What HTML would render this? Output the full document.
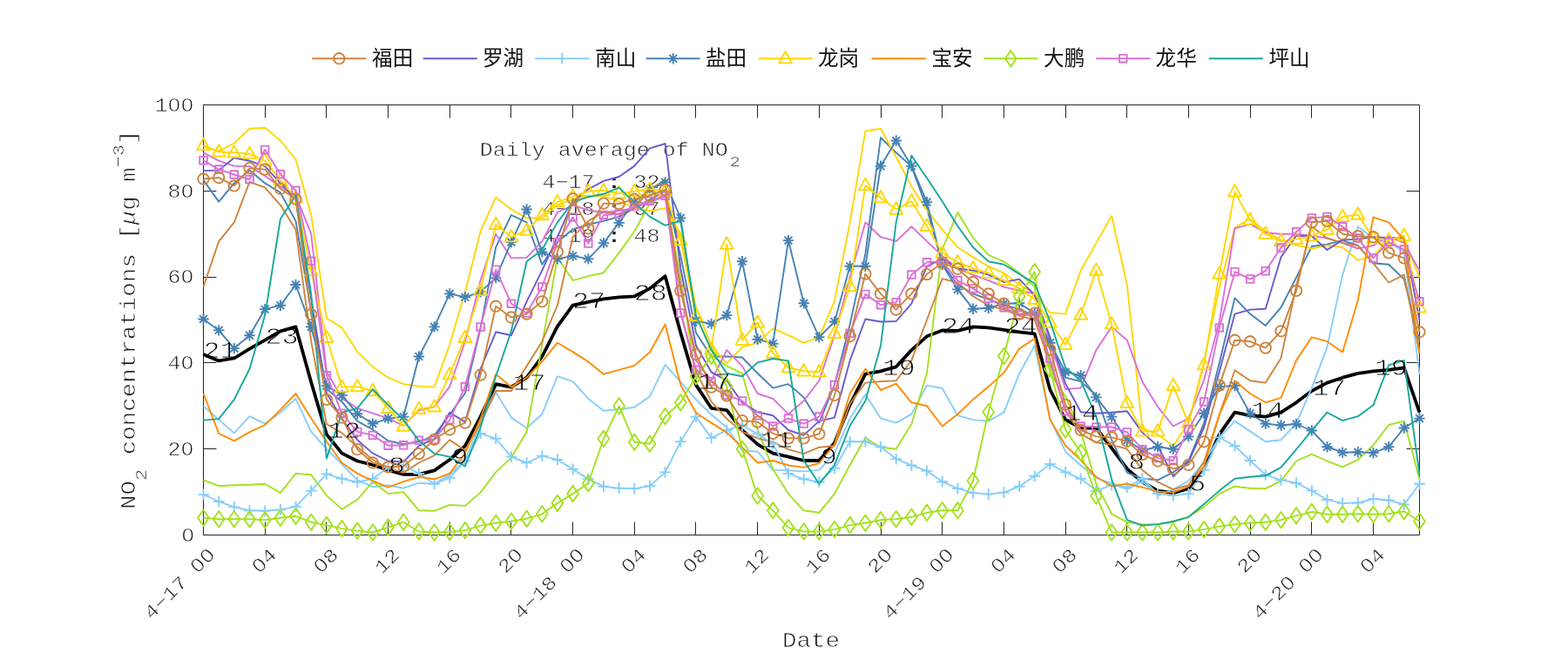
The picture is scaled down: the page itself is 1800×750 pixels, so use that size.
<!DOCTYPE html>
<html><head><meta charset="utf-8"><title>NO2</title>
<style>html,body{margin:0;padding:0;background:#fff}svg{display:block}text{mix-blend-mode:multiply;font-family:"Liberation Mono",monospace;font-size:25px;fill:#1c1c1c;stroke:#fff;stroke-width:0.65px}.b{fill:#000;stroke-width:1.0px;font-size:31.7px}.l{fill:none;stroke-linejoin:round;stroke-linecap:butt}.lg{mix-blend-mode:normal;font-family:"Liberation Sans","Noto Sans CJK SC",sans-serif;font-size:23.6px;fill:#111;stroke:none}</style></head><body>
<svg width="1800" height="750" viewBox="0 0 1800 750">
<rect width="1800" height="750" fill="#fff"/>
<path d="M233.5 120.5H1629.5V614.5H233.5ZM233.5 614.5v-15M233.5 120.5v15M304.5 614.5v-15M304.5 120.5v15M374.5 614.5v-15M374.5 120.5v15M445.5 614.5v-15M445.5 120.5v15M516.5 614.5v-15M516.5 120.5v15M586.5 614.5v-15M586.5 120.5v15M657.5 614.5v-15M657.5 120.5v15M728.5 614.5v-15M728.5 120.5v15M798.5 614.5v-15M798.5 120.5v15M869.5 614.5v-15M869.5 120.5v15M940.5 614.5v-15M940.5 120.5v15M1011.5 614.5v-15M1011.5 120.5v15M1081.5 614.5v-15M1081.5 120.5v15M1152.5 614.5v-15M1152.5 120.5v15M1223.5 614.5v-15M1223.5 120.5v15M1293.5 614.5v-15M1293.5 120.5v15M1364.5 614.5v-15M1364.5 120.5v15M1435.5 614.5v-15M1435.5 120.5v15M1505.5 614.5v-15M1505.5 120.5v15M1576.5 614.5v-15M1576.5 120.5v15M233.5 515.5h15M1629.5 515.5h-15M233.5 416.5h15M1629.5 416.5h-15M233.5 318.5h15M1629.5 318.5h-15M233.5 219.5h15M1629.5 219.5h-15" fill="none" stroke="#262626" stroke-width="1"/>
<text transform="translate(550.8,178.7) scale(1,0.87)">Daily average of NO<tspan font-size="20" dy="14.7" dx="2">2</tspan></text>
<text transform="translate(622.5,215.8) scale(1,0.87)">4−17 <tspan font-weight="bold" stroke="none">:</tspan> 32</text>
<text transform="translate(622.5,246.7) scale(1,0.87)">4−18 <tspan font-weight="bold" stroke="none">:</tspan> 37</text>
<text transform="translate(622.5,277.5) scale(1,0.87)">4−19 <tspan font-weight="bold" stroke="none">:</tspan> 48</text>
<polyline class="l" stroke="#000" stroke-width="3.8" stroke-linejoin="miter" points="233.5,407 251.2,414.4 268.8,411.5 286.5,400.6 304.2,390.7 321.9,380.3 339.5,375.4 357.2,439.1 374.9,498.9 392.5,520.6 410.2,529.5 427.9,534 445.6,539.9 463.2,544.8 480.9,544.8 498.6,540.4 516.2,528 533.9,512.2 551.6,478.6 569.2,441.1 586.9,444.6 604.6,433.7 622.3,409.5 639.9,374.9 657.6,350.7 675.3,346.8 692.9,343.3 710.6,341.3 728.3,340.3 746,331.4 763.6,317.1 781.3,382.3 799,442.1 816.6,468.8 834.3,471.2 852,494 869.7,510.3 887.3,520.6 905,524.6 922.7,529 940.3,529 958,508.8 975.7,464.8 993.4,429.7 1011,426.3 1028.7,421.3 1046.4,402.1 1064,386.3 1081.7,379.4 1099.4,379.9 1117,375.4 1134.7,376.4 1152.4,378.9 1170.1,381.3 1187.7,383.3 1205.4,447.5 1223.1,482.1 1240.7,491.5 1258.4,491.5 1276.1,514.7 1293.8,538.4 1311.4,553.7 1329.1,563.6 1346.8,566.1 1364.4,561.1 1382.1,537.9 1399.8,498.9 1417.5,473.7 1435.1,477.2 1452.8,478.6 1470.5,473.7 1488.1,462.3 1505.8,449 1523.5,439.6 1541.2,433.7 1558.8,428.8 1576.5,426.3 1594.2,424.8 1611.8,422.3 1629.5,473.7"/>
<g class="l" stroke-width="1.9">
<polyline stroke="#87CEFA" points="233.5,466.3 251.2,482.1 268.8,497.4 286.5,478.2 304.2,486.6 321.9,473.7 339.5,457.9 357.2,495.9 374.9,515.7 392.5,533 410.2,551.3 427.9,559.2 445.6,557.2 463.2,560.7 480.9,554.7 498.6,555.7 516.2,545.3 533.9,529 551.6,486.1 569.2,450.5 586.9,479.6 604.6,491.5 622.3,475.7 639.9,432.2 657.6,438.1 675.3,457.9 692.9,471.7 710.6,470.3 728.3,467.8 746,455.4 763.6,418.9 781.3,438.6 799,458.9 816.6,476.2 834.3,491 852,517.2 869.7,518.7 887.3,539.9 905,540.4 922.7,541.4 940.3,539.9 958,520.6 975.7,480.6 993.4,453 1011,480.6 1028.7,485.6 1046.4,475.7 1064,442.6 1081.7,446 1099.4,477.2 1117,482.1 1134.7,483.6 1152.4,473.7 1170.1,429.2 1187.7,397.1 1205.4,480.6 1223.1,518.7 1240.7,534.5 1258.4,548.8 1276.1,555.2 1293.8,562.1 1311.4,552.8 1329.1,569.1 1346.8,562.1 1364.4,552.3 1382.1,530.5 1399.8,502.4 1417.5,483.6 1435.1,495.4 1452.8,507.3 1470.5,505.3 1488.1,486.6 1505.8,445.6 1523.5,398.6 1541.2,315.6 1558.8,260.3 1576.5,273.6 1594.2,278.6 1611.8,289 1629.5,430.2"/>
<polyline stroke="#4682B4" points="233.5,206.9 251.2,231.6 268.8,210.4 286.5,195.6 304.2,210.4 321.9,221.3 339.5,253.9 357.2,357.6 374.9,446.5 392.5,461.4 410.2,483.6 427.9,493.5 445.6,506.3 463.2,510.3 480.9,507.3 498.6,500.4 516.2,476.2 533.9,451.5 551.6,377.4 569.2,284 586.9,247 604.6,255.4 622.3,303.8 639.9,278.1 657.6,263.3 675.3,257.8 692.9,253.9 710.6,248.9 728.3,239.1 746,229.2 763.6,219.3 781.3,293.4 799,382.3 816.6,409.5 834.3,409.5 852,410.5 869.7,428.8 887.3,445.6 905,441.1 922.7,456.4 940.3,485.6 958,442.1 975.7,372.4 993.4,291.4 1011,158 1028.7,175.3 1046.4,191.1 1064,239.1 1081.7,303.3 1099.4,327 1117,337.4 1134.7,343.8 1152.4,350.2 1170.1,355.1 1187.7,362.6 1205.4,397.1 1223.1,433.7 1240.7,438.1 1258.4,453.9 1276.1,505.3 1293.8,542.9 1311.4,549.8 1329.1,551.3 1346.8,542.4 1364.4,529 1382.1,486.1 1399.8,416.9 1417.5,342.3 1435.1,360.6 1452.8,373.9 1470.5,353.2 1488.1,318.6 1505.8,283 1523.5,280.6 1541.2,276.1 1558.8,282 1576.5,302.3 1594.2,303.8 1611.8,320.6 1629.5,392.2"/>
<polyline stroke="#FFD700" points="233.5,168.9 251.2,173.4 268.8,164.5 286.5,147.7 304.2,146.7 321.9,161.5 339.5,183.2 357.2,247 374.9,365.5 392.5,376.4 410.2,404.1 427.9,421.3 445.6,433.7 463.2,441.1 480.9,443.6 498.6,444.6 516.2,395.7 533.9,335.4 551.6,265.7 569.2,226.7 586.9,240.5 604.6,250.4 622.3,250.4 639.9,235.6 657.6,228.7 675.3,224.7 692.9,225.2 710.6,231.6 728.3,238.6 746,242.5 763.6,239.1 781.3,268.7 799,352.7 816.6,397.1 834.3,417.4 852,398.6 869.7,393.7 887.3,377.4 905,384.8 922.7,393.7 940.3,387.3 958,345.8 975.7,255.4 993.4,150.6 1011,147.7 1028.7,180.3 1046.4,213.9 1064,241.5 1081.7,263.8 1099.4,284 1117,295.4 1134.7,305.8 1152.4,313.7 1170.1,327 1187.7,337.4 1205.4,359.1 1223.1,360.6 1240.7,310.7 1258.4,279.1 1276.1,248 1293.8,327 1311.4,492 1329.1,498.9 1346.8,512.2 1364.4,485.6 1382.1,415.4 1399.8,330.4 1417.5,261.3 1435.1,251.4 1452.8,265.7 1470.5,275.6 1488.1,281.5 1505.8,285.5 1523.5,282 1541.2,284 1558.8,298.8 1576.5,293.9 1594.2,275.6 1611.8,273.6 1629.5,318.6"/>
<polyline stroke="#A4E21F" points="233.5,551.3 251.2,558.2 268.8,557.2 286.5,556.7 304.2,555.7 321.9,566.1 339.5,543.9 357.2,545.3 374.9,569.1 392.5,584.9 410.2,574 427.9,553.2 445.6,567.1 463.2,565.1 480.9,586.3 498.6,586.8 516.2,579.9 533.9,580.9 551.6,565.6 569.2,542.4 586.9,525.6 604.6,495.9 622.3,395.7 639.9,295.4 657.6,322.1 675.3,317.1 692.9,313.2 710.6,290.4 728.3,265.7 746,233.6 763.6,223.7 781.3,318.1 799,435.7 816.6,408 834.3,420.4 852,428.8 869.7,493.5 887.3,538.9 905,567.1 922.7,586.3 940.3,588.8 958,567.1 975.7,534 993.4,502.9 1011,513.7 1028.7,515.7 1046.4,487 1064,428.8 1081.7,286 1099.4,244 1117,273.1 1134.7,292.9 1152.4,300.3 1170.1,313.7 1187.7,329 1205.4,428.8 1223.1,455.4 1240.7,495.4 1258.4,555.7 1276.1,590.3 1293.8,599.7 1311.4,602.1 1329.1,602.1 1346.8,599.7 1364.4,593.8 1382.1,582.4 1399.8,567.1 1417.5,558.7 1435.1,560.7 1452.8,561.1 1470.5,552.3 1488.1,529.5 1505.8,521.6 1523.5,529.5 1541.2,536.4 1558.8,528 1576.5,511.3 1594.2,488 1611.8,483.6 1629.5,550.3"/>
<polyline stroke="#DA70D6" points="233.5,175.3 251.2,184.7 268.8,190.6 286.5,191.1 304.2,202 321.9,214.4 339.5,224.2 357.2,268.7 374.9,426.8 392.5,457.4 410.2,468.8 427.9,474.7 445.6,480.6 463.2,489 480.9,471.2 498.6,467.3 516.2,444.1 533.9,392.2 551.6,322.1 569.2,268.7 586.9,296.4 604.6,295.9 622.3,277.1 639.9,244 657.6,235.6 675.3,241.5 692.9,244 710.6,242 728.3,239.1 746,232.1 763.6,225.7 781.3,328 799,413.9 816.6,437.2 834.3,402.1 852,420.4 869.7,452 887.3,457.9 905,475.7 922.7,460.4 940.3,437.2 958,385.3 975.7,318.1 993.4,255.4 1011,272.2 1028.7,277.1 1046.4,260.3 1064,277.1 1081.7,293.9 1099.4,308.7 1117,315.6 1134.7,322.1 1152.4,329.5 1170.1,333.9 1187.7,337.4 1205.4,392.2 1223.1,447 1240.7,445.6 1258.4,402.1 1276.1,375.4 1293.8,390.7 1311.4,438.6 1329.1,467.3 1346.8,489.5 1364.4,480.6 1382.1,436.7 1399.8,369 1417.5,262.3 1435.1,257.3 1452.8,267.2 1470.5,268.7 1488.1,268.7 1505.8,270.7 1523.5,273.6 1541.2,279.1 1558.8,285.5 1576.5,282 1594.2,271.2 1611.8,279.1 1629.5,310.7"/>
<polyline stroke="#CD853F" points="233.5,329.5 251.2,277.1 268.8,255.4 286.5,208.9 304.2,215.3 321.9,235.6 339.5,263.8 357.2,392.2 374.9,487 392.5,497.4 410.2,513.2 427.9,528 445.6,537.9 463.2,542.9 480.9,531.5 498.6,523.1 516.2,505.3 533.9,517.2 551.6,486.1 569.2,449 586.9,449 604.6,420.4 622.3,392.2 639.9,350.7 657.6,272.2 675.3,253.9 692.9,243.5 710.6,246.5 728.3,238.6 746,218.3 763.6,206 781.3,357.6 799,426.8 816.6,461.4 834.3,481.1 852,495.9 869.7,503.4 887.3,507.8 905,516.2 922.7,521.1 940.3,513.7 958,512.2 975.7,463.8 993.4,439.6 1011,438.1 1028.7,437.2 1046.4,413.9 1064,367.5 1081.7,320.1 1099.4,324.5 1117,340.3 1134.7,350.7 1152.4,355.6 1170.1,362.6 1187.7,367.5 1205.4,416.9 1223.1,471.2 1240.7,498.4 1258.4,508.3 1276.1,510.8 1293.8,515.7 1311.4,539.9 1329.1,553.7 1346.8,562.1 1364.4,557.2 1382.1,530.5 1399.8,476.2 1417.5,425.3 1435.1,437.2 1452.8,439.6 1470.5,411.5 1488.1,328 1505.8,260.3 1523.5,273.6 1541.2,279.1 1558.8,282 1576.5,302.3 1594.2,324.5 1611.8,315.6 1629.5,405.5"/>
<polyline stroke="#6A5ACD" points="233.5,196.1 251.2,195.6 268.8,181.3 286.5,184.7 304.2,191.1 321.9,210.4 339.5,229.2 357.2,342.8 374.9,451.5 392.5,481.1 410.2,505.3 427.9,520.6 445.6,529.5 463.2,530.5 480.9,512.2 498.6,503.8 516.2,473.7 533.9,484.6 551.6,423.8 569.2,381.3 586.9,385.3 604.6,346.3 622.3,310.7 639.9,272.2 657.6,232.1 675.3,217.3 692.9,207.9 710.6,203 728.3,190.6 746,170.4 763.6,165 781.3,308.2 799,397.1 816.6,427.3 834.3,437.2 852,462.3 869.7,473.2 887.3,477.2 905,494 922.7,499.9 940.3,483.6 958,479.6 975.7,413.9 993.4,366.5 1011,369.5 1028.7,369 1046.4,348.7 1064,305.8 1081.7,297.4 1099.4,308.2 1117,310.7 1134.7,315.6 1152.4,324 1170.1,320.6 1187.7,338.8 1205.4,387.3 1223.1,440.6 1240.7,473.2 1258.4,474.7 1276.1,473.7 1293.8,472.2 1311.4,496.9 1329.1,512.2 1346.8,547.3 1364.4,530.5 1382.1,491 1399.8,426.8 1417.5,360.6 1435.1,355.6 1452.8,354.7 1470.5,295.4 1488.1,270.7 1505.8,271.2 1523.5,287 1541.2,275.6 1558.8,274.6 1576.5,272.2 1594.2,273.1 1611.8,273.1 1629.5,367.5"/>
<polyline stroke="#87CEFA" points="233.5,568.1 251.2,576 268.8,582.4 286.5,586.3 304.2,586.8 321.9,585.4 339.5,581.9 357.2,563.6 374.9,544.4 392.5,549.8 410.2,553.7 427.9,549.8 445.6,536.9 463.2,534.5 480.9,543.9 498.6,555.7 516.2,548.8 533.9,529.5 551.6,497.9 569.2,503.8 586.9,524.6 604.6,531.5 622.3,523.6 639.9,528 657.6,538.9 675.3,550.3 692.9,558.7 710.6,560.7 728.3,561.1 746,558.2 763.6,542.4 781.3,507.3 799,478.6 816.6,502.9 834.3,494 852,488.5 869.7,498.4 887.3,509.8 905,543.9 922.7,550.3 940.3,553.7 958,537.9 975.7,507.3 993.4,507.3 1011,513.2 1028.7,527.1 1046.4,534.5 1064,540.9 1081.7,553.2 1099.4,561.1 1117,566.1 1134.7,567.6 1152.4,565.6 1170.1,558.7 1187.7,546.8 1205.4,533 1223.1,542.4 1240.7,549.8 1258.4,563.6 1276.1,557.2 1293.8,559.7 1311.4,549.8 1329.1,567.1 1346.8,569.1 1364.4,567.1 1382.1,539.9 1399.8,502.4 1417.5,512.2 1435.1,529 1452.8,545.3 1470.5,551.3 1488.1,554.7 1505.8,563.6 1523.5,574 1541.2,577.9 1558.8,577.5 1576.5,573 1594.2,574.5 1611.8,579.4 1629.5,555.7"/>
<path stroke="#87CEFA" d="M227.1 568.1h12.8M233.5 561.7v12.8M244.8 576h12.8M251.2 569.6v12.8M262.4 582.4h12.8M268.8 576v12.8M280.1 586.3h12.8M286.5 579.9v12.8M297.8 586.8h12.8M304.2 580.4v12.8M315.5 585.4h12.8M321.9 579v12.8M333.1 581.9h12.8M339.5 575.5v12.8M350.8 563.6h12.8M357.2 557.2v12.8M368.5 544.4h12.8M374.9 538v12.8M386.1 549.8h12.8M392.5 543.4v12.8M403.8 553.7h12.8M410.2 547.3v12.8M421.5 549.8h12.8M427.9 543.4v12.8M439.2 536.9h12.8M445.6 530.5v12.8M456.8 534.5h12.8M463.2 528.1v12.8M474.5 543.9h12.8M480.9 537.5v12.8M492.2 555.7h12.8M498.6 549.3v12.8M509.8 548.8h12.8M516.2 542.4v12.8M527.5 529.5h12.8M533.9 523.1v12.8M545.2 497.9h12.8M551.6 491.5v12.8M562.8 503.8h12.8M569.2 497.4v12.8M580.5 524.6h12.8M586.9 518.2v12.8M598.2 531.5h12.8M604.6 525.1v12.8M615.9 523.6h12.8M622.3 517.2v12.8M633.5 528h12.8M639.9 521.6v12.8M651.2 538.9h12.8M657.6 532.5v12.8M668.9 550.3h12.8M675.3 543.9v12.8M686.5 558.7h12.8M692.9 552.3v12.8M704.2 560.7h12.8M710.6 554.3v12.8M721.9 561.1h12.8M728.3 554.7v12.8M739.6 558.2h12.8M746 551.8v12.8M757.2 542.4h12.8M763.6 536v12.8M774.9 507.3h12.8M781.3 500.9v12.8M792.6 478.6h12.8M799 472.2v12.8M810.2 502.9h12.8M816.6 496.5v12.8M827.9 494h12.8M834.3 487.6v12.8M845.6 488.5h12.8M852 482.1v12.8M863.3 498.4h12.8M869.7 492v12.8M880.9 509.8h12.8M887.3 503.4v12.8M898.6 543.9h12.8M905 537.5v12.8M916.3 550.3h12.8M922.7 543.9v12.8M933.9 553.7h12.8M940.3 547.3v12.8M951.6 537.9h12.8M958 531.5v12.8M969.3 507.3h12.8M975.7 500.9v12.8M987 507.3h12.8M993.4 500.9v12.8M1004.6 513.2h12.8M1011 506.8v12.8M1022.3 527.1h12.8M1028.7 520.7v12.8M1040 534.5h12.8M1046.4 528.1v12.8M1057.6 540.9h12.8M1064 534.5v12.8M1075.3 553.2h12.8M1081.7 546.8v12.8M1093 561.1h12.8M1099.4 554.7v12.8M1110.6 566.1h12.8M1117 559.7v12.8M1128.3 567.6h12.8M1134.7 561.2v12.8M1146 565.6h12.8M1152.4 559.2v12.8M1163.7 558.7h12.8M1170.1 552.3v12.8M1181.3 546.8h12.8M1187.7 540.4v12.8M1199 533h12.8M1205.4 526.6v12.8M1216.7 542.4h12.8M1223.1 536v12.8M1234.3 549.8h12.8M1240.7 543.4v12.8M1252 563.6h12.8M1258.4 557.2v12.8M1269.7 557.2h12.8M1276.1 550.8v12.8M1287.4 559.7h12.8M1293.8 553.3v12.8M1305 549.8h12.8M1311.4 543.4v12.8M1322.7 567.1h12.8M1329.1 560.7v12.8M1340.4 569.1h12.8M1346.8 562.7v12.8M1358 567.1h12.8M1364.4 560.7v12.8M1375.7 539.9h12.8M1382.1 533.5v12.8M1393.4 502.4h12.8M1399.8 496v12.8M1411.1 512.2h12.8M1417.5 505.8v12.8M1428.7 529h12.8M1435.1 522.6v12.8M1446.4 545.3h12.8M1452.8 538.9v12.8M1464.1 551.3h12.8M1470.5 544.9v12.8M1481.7 554.7h12.8M1488.1 548.3v12.8M1499.4 563.6h12.8M1505.8 557.2v12.8M1517.1 574h12.8M1523.5 567.6v12.8M1534.8 577.9h12.8M1541.2 571.5v12.8M1552.4 577.5h12.8M1558.8 571.1v12.8M1570.1 573h12.8M1576.5 566.6v12.8M1587.8 574.5h12.8M1594.2 568.1v12.8M1605.4 579.4h12.8M1611.8 573v12.8M1623.1 555.7h12.8M1629.5 549.3v12.8"/>
<polyline stroke="#4682B4" points="233.5,366.5 251.2,379.4 268.8,400.1 286.5,385.3 304.2,355.1 321.9,350.7 339.5,327 357.2,375.4 374.9,443.1 392.5,453.9 410.2,475.2 427.9,486.6 445.6,480.6 463.2,478.6 480.9,409.5 498.6,375.4 516.2,337.4 533.9,341.3 551.6,335.4 569.2,319.1 586.9,278.1 604.6,240.5 622.3,289.4 639.9,297.4 657.6,293.9 675.3,297.4 692.9,279.1 710.6,255.9 728.3,231.6 746,217.8 763.6,209.4 781.3,250.4 799,368.5 816.6,371.9 834.3,362.1 852,300.3 869.7,389.7 887.3,394.7 905,276.1 922.7,348.2 940.3,387.3 958,369.5 975.7,305.8 993.4,305.8 1011,190.6 1028.7,161.5 1046.4,190.6 1064,232.1 1081.7,303.8 1099.4,332.4 1117,354.7 1134.7,353.7 1152.4,348.7 1170.1,348.2 1187.7,359.6 1205.4,393.7 1223.1,427.3 1240.7,431.2 1258.4,456.4 1276.1,478.6 1293.8,505.8 1311.4,517.2 1329.1,513.2 1346.8,515.7 1364.4,501.4 1382.1,474.7 1399.8,444.1 1417.5,443.1 1435.1,474.7 1452.8,486.6 1470.5,488.5 1488.1,487 1505.8,494.5 1523.5,513.2 1541.2,519.7 1558.8,519.2 1576.5,520.1 1594.2,513.2 1611.8,491.5 1629.5,480.6"/>
<path stroke="#4682B4" d="M227.3 366.5h12.4M233.5 360.3v12.4M229.1 362.1l8.8 8.8M229.1 370.9l8.8 -8.8M245 379.4h12.4M251.2 373.2v12.4M246.8 375l8.8 8.8M246.8 383.7l8.8 -8.8M262.6 400.1h12.4M268.8 393.9v12.4M264.5 395.7l8.8 8.8M264.5 404.5l8.8 -8.8M280.3 385.3h12.4M286.5 379.1v12.4M282.1 380.9l8.8 8.8M282.1 389.7l8.8 -8.8M298 355.1h12.4M304.2 348.9v12.4M299.8 350.8l8.8 8.8M299.8 359.5l8.8 -8.8M315.7 350.7h12.4M321.9 344.5v12.4M317.5 346.3l8.8 8.8M317.5 355.1l8.8 -8.8M333.3 327h12.4M339.5 320.8v12.4M335.1 322.6l8.8 8.8M335.1 331.4l8.8 -8.8M351 375.4h12.4M357.2 369.2v12.4M352.8 371l8.8 8.8M352.8 379.8l8.8 -8.8M368.7 443.1h12.4M374.9 436.9v12.4M370.5 438.7l8.8 8.8M370.5 447.5l8.8 -8.8M386.3 453.9h12.4M392.5 447.8v12.4M388.2 449.6l8.8 8.8M388.2 458.3l8.8 -8.8M404 475.2h12.4M410.2 469v12.4M405.8 470.8l8.8 8.8M405.8 479.6l8.8 -8.8M421.7 486.6h12.4M427.9 480.4v12.4M423.5 482.2l8.8 8.8M423.5 490.9l8.8 -8.8M439.4 480.6h12.4M445.6 474.4v12.4M441.2 476.2l8.8 8.8M441.2 485l8.8 -8.8M457 478.6h12.4M463.2 472.4v12.4M458.8 474.3l8.8 8.8M458.8 483l8.8 -8.8M474.7 409.5h12.4M480.9 403.3v12.4M476.5 405.1l8.8 8.8M476.5 413.9l8.8 -8.8M492.4 375.4h12.4M498.6 369.2v12.4M494.2 371l8.8 8.8M494.2 379.8l8.8 -8.8M510 337.4h12.4M516.2 331.2v12.4M511.9 333l8.8 8.8M511.9 341.8l8.8 -8.8M527.7 341.3h12.4M533.9 335.1v12.4M529.5 336.9l8.8 8.8M529.5 345.7l8.8 -8.8M545.4 335.4h12.4M551.6 329.2v12.4M547.2 331l8.8 8.8M547.2 339.8l8.8 -8.8M563 319.1h12.4M569.2 312.9v12.4M564.9 314.7l8.8 8.8M564.9 323.5l8.8 -8.8M580.7 278.1h12.4M586.9 271.9v12.4M582.5 273.7l8.8 8.8M582.5 282.5l8.8 -8.8M598.4 240.5h12.4M604.6 234.3v12.4M600.2 236.2l8.8 8.8M600.2 244.9l8.8 -8.8M616.1 289.4h12.4M622.3 283.2v12.4M617.9 285.1l8.8 8.8M617.9 293.8l8.8 -8.8M633.7 297.4h12.4M639.9 291.2v12.4M635.5 293l8.8 8.8M635.5 301.7l8.8 -8.8M651.4 293.9h12.4M657.6 287.7v12.4M653.2 289.5l8.8 8.8M653.2 298.3l8.8 -8.8M669.1 297.4h12.4M675.3 291.2v12.4M670.9 293l8.8 8.8M670.9 301.7l8.8 -8.8M686.7 279.1h12.4M692.9 272.9v12.4M688.6 274.7l8.8 8.8M688.6 283.5l8.8 -8.8M704.4 255.9h12.4M710.6 249.7v12.4M706.2 251.5l8.8 8.8M706.2 260.2l8.8 -8.8M722.1 231.6h12.4M728.3 225.4v12.4M723.9 227.3l8.8 8.8M723.9 236l8.8 -8.8M739.8 217.8h12.4M746 211.6v12.4M741.6 213.4l8.8 8.8M741.6 222.2l8.8 -8.8M757.4 209.4h12.4M763.6 203.2v12.4M759.2 205l8.8 8.8M759.2 213.8l8.8 -8.8M775.1 250.4h12.4M781.3 244.2v12.4M776.9 246l8.8 8.8M776.9 254.8l8.8 -8.8M792.8 368.5h12.4M799 362.3v12.4M794.6 364.1l8.8 8.8M794.6 372.9l8.8 -8.8M810.4 371.9h12.4M816.6 365.7v12.4M812.3 367.6l8.8 8.8M812.3 376.3l8.8 -8.8M828.1 362.1h12.4M834.3 355.9v12.4M829.9 357.7l8.8 8.8M829.9 366.5l8.8 -8.8M845.8 300.3h12.4M852 294.1v12.4M847.6 295.9l8.8 8.8M847.6 304.7l8.8 -8.8M863.5 389.7h12.4M869.7 383.5v12.4M865.3 385.3l8.8 8.8M865.3 394.1l8.8 -8.8M881.1 394.7h12.4M887.3 388.5v12.4M882.9 390.3l8.8 8.8M882.9 399.1l8.8 -8.8M898.8 276.1h12.4M905 269.9v12.4M900.6 271.7l8.8 8.8M900.6 280.5l8.8 -8.8M916.5 348.2h12.4M922.7 342v12.4M918.3 343.8l8.8 8.8M918.3 352.6l8.8 -8.8M934.1 387.3h12.4M940.3 381.1v12.4M936 382.9l8.8 8.8M936 391.6l8.8 -8.8M951.8 369.5h12.4M958 363.3v12.4M953.6 365.1l8.8 8.8M953.6 373.9l8.8 -8.8M969.5 305.8h12.4M975.7 299.6v12.4M971.3 301.4l8.8 8.8M971.3 310.1l8.8 -8.8M987.2 305.8h12.4M993.4 299.6v12.4M989 301.4l8.8 8.8M989 310.1l8.8 -8.8M1004.8 190.6h12.4M1011 184.4v12.4M1006.6 186.3l8.8 8.8M1006.6 195l8.8 -8.8M1022.5 161.5h12.4M1028.7 155.3v12.4M1024.3 157.1l8.8 8.8M1024.3 165.9l8.8 -8.8M1040.2 190.6h12.4M1046.4 184.4v12.4M1042 186.3l8.8 8.8M1042 195l8.8 -8.8M1057.8 232.1h12.4M1064 225.9v12.4M1059.7 227.8l8.8 8.8M1059.7 236.5l8.8 -8.8M1075.5 303.8h12.4M1081.7 297.6v12.4M1077.3 299.4l8.8 8.8M1077.3 308.2l8.8 -8.8M1093.2 332.4h12.4M1099.4 326.2v12.4M1095 328l8.8 8.8M1095 336.8l8.8 -8.8M1110.8 354.7h12.4M1117 348.5v12.4M1112.7 350.3l8.8 8.8M1112.7 359l8.8 -8.8M1128.5 353.7h12.4M1134.7 347.5v12.4M1130.3 349.3l8.8 8.8M1130.3 358.1l8.8 -8.8M1146.2 348.7h12.4M1152.4 342.5v12.4M1148 344.3l8.8 8.8M1148 353.1l8.8 -8.8M1163.9 348.2h12.4M1170.1 342v12.4M1165.7 343.8l8.8 8.8M1165.7 352.6l8.8 -8.8M1181.5 359.6h12.4M1187.7 353.4v12.4M1183.3 355.2l8.8 8.8M1183.3 364l8.8 -8.8M1199.2 393.7h12.4M1205.4 387.5v12.4M1201 389.3l8.8 8.8M1201 398.1l8.8 -8.8M1216.9 427.3h12.4M1223.1 421.1v12.4M1218.7 422.9l8.8 8.8M1218.7 431.7l8.8 -8.8M1234.5 431.2h12.4M1240.7 425v12.4M1236.4 426.8l8.8 8.8M1236.4 435.6l8.8 -8.8M1252.2 456.4h12.4M1258.4 450.2v12.4M1254 452l8.8 8.8M1254 460.8l8.8 -8.8M1269.9 478.6h12.4M1276.1 472.4v12.4M1271.7 474.3l8.8 8.8M1271.7 483l8.8 -8.8M1287.6 505.8h12.4M1293.8 499.6v12.4M1289.4 501.4l8.8 8.8M1289.4 510.2l8.8 -8.8M1305.2 517.2h12.4M1311.4 511v12.4M1307 512.8l8.8 8.8M1307 521.6l8.8 -8.8M1322.9 513.2h12.4M1329.1 507v12.4M1324.7 508.8l8.8 8.8M1324.7 517.6l8.8 -8.8M1340.6 515.7h12.4M1346.8 509.5v12.4M1342.4 511.3l8.8 8.8M1342.4 520.1l8.8 -8.8M1358.2 501.4h12.4M1364.4 495.2v12.4M1360.1 497l8.8 8.8M1360.1 505.8l8.8 -8.8M1375.9 474.7h12.4M1382.1 468.5v12.4M1377.7 470.3l8.8 8.8M1377.7 479.1l8.8 -8.8M1393.6 444.1h12.4M1399.8 437.9v12.4M1395.4 439.7l8.8 8.8M1395.4 448.5l8.8 -8.8M1411.3 443.1h12.4M1417.5 436.9v12.4M1413.1 438.7l8.8 8.8M1413.1 447.5l8.8 -8.8M1428.9 474.7h12.4M1435.1 468.5v12.4M1430.7 470.3l8.8 8.8M1430.7 479.1l8.8 -8.8M1446.6 486.6h12.4M1452.8 480.4v12.4M1448.4 482.2l8.8 8.8M1448.4 490.9l8.8 -8.8M1464.3 488.5h12.4M1470.5 482.3v12.4M1466.1 484.1l8.8 8.8M1466.1 492.9l8.8 -8.8M1481.9 487h12.4M1488.1 480.8v12.4M1483.8 482.7l8.8 8.8M1483.8 491.4l8.8 -8.8M1499.6 494.5h12.4M1505.8 488.3v12.4M1501.4 490.1l8.8 8.8M1501.4 498.8l8.8 -8.8M1517.3 513.2h12.4M1523.5 507v12.4M1519.1 508.8l8.8 8.8M1519.1 517.6l8.8 -8.8M1535 519.7h12.4M1541.2 513.5v12.4M1536.8 515.3l8.8 8.8M1536.8 524l8.8 -8.8M1552.6 519.2h12.4M1558.8 513v12.4M1554.4 514.8l8.8 8.8M1554.4 523.5l8.8 -8.8M1570.3 520.1h12.4M1576.5 513.9v12.4M1572.1 515.8l8.8 8.8M1572.1 524.5l8.8 -8.8M1588 513.2h12.4M1594.2 507v12.4M1589.8 508.8l8.8 8.8M1589.8 517.6l8.8 -8.8M1605.6 491.5h12.4M1611.8 485.3v12.4M1607.5 487.1l8.8 8.8M1607.5 495.9l8.8 -8.8M1623.3 480.6h12.4M1629.5 474.4v12.4M1625.1 476.2l8.8 8.8M1625.1 485l8.8 -8.8"/>
<polyline stroke="#FFD700" points="233.5,166.9 251.2,174.3 268.8,175.3 286.5,176.8 304.2,184.7 321.9,206.9 339.5,227.2 357.2,311.2 374.9,387.8 392.5,444.6 410.2,444.1 427.9,449 445.6,468.8 463.2,489.5 480.9,469.8 498.6,467.3 516.2,430.2 533.9,387.8 551.6,333.9 569.2,257.8 586.9,272.2 604.6,264.7 622.3,247 639.9,232.1 657.6,225.7 675.3,219.8 692.9,218.8 710.6,222.3 728.3,219.8 746,217.3 763.6,219.8 781.3,276.1 799,363.1 816.6,401.1 834.3,280.6 852,390.7 869.7,370.5 887.3,405.5 905,422.3 922.7,426.3 940.3,427.3 958,382.8 975.7,329 993.4,212.9 1011,227.2 1028.7,240.5 1046.4,231.2 1064,259.8 1081.7,290.4 1099.4,301.3 1117,308.2 1134.7,313.7 1152.4,322.1 1170.1,331.4 1187.7,343.8 1205.4,370.5 1223.1,395.7 1240.7,361.6 1258.4,310.7 1276.1,372.4 1293.8,462.8 1311.4,495.4 1329.1,495.4 1346.8,443.1 1364.4,486.1 1382.1,418.9 1399.8,314.6 1417.5,220.3 1435.1,252.9 1452.8,268.7 1470.5,277.1 1488.1,274.6 1505.8,271.2 1523.5,263.8 1541.2,248.9 1558.8,246.5 1576.5,273.6 1594.2,275.6 1611.8,270.7 1629.5,353.2"/>
<path stroke="#FFD700" d="M233.5 158.7l7.4 13.4h-14.8zM251.2 166.1l7.4 13.4h-14.8zM268.8 167.1l7.4 13.4h-14.8zM286.5 168.6l7.4 13.4h-14.8zM304.2 176.5l7.4 13.4h-14.8zM321.9 198.8l7.4 13.4h-14.8zM339.5 219l7.4 13.4h-14.8zM357.2 303l7.4 13.4h-14.8zM374.9 379.6l7.4 13.4h-14.8zM392.5 436.4l7.4 13.4h-14.8zM410.2 435.9l7.4 13.4h-14.8zM427.9 440.8l7.4 13.4h-14.8zM445.6 460.6l7.4 13.4h-14.8zM463.2 481.3l7.4 13.4h-14.8zM480.9 461.6l7.4 13.4h-14.8zM498.6 459.1l7.4 13.4h-14.8zM516.2 422l7.4 13.4h-14.8zM533.9 379.6l7.4 13.4h-14.8zM551.6 325.7l7.4 13.4h-14.8zM569.2 249.6l7.4 13.4h-14.8zM586.9 264l7.4 13.4h-14.8zM604.6 256.5l7.4 13.4h-14.8zM622.3 238.8l7.4 13.4h-14.8zM639.9 223.9l7.4 13.4h-14.8zM657.6 217.5l7.4 13.4h-14.8zM675.3 211.6l7.4 13.4h-14.8zM692.9 210.6l7.4 13.4h-14.8zM710.6 214.1l7.4 13.4h-14.8zM728.3 211.6l7.4 13.4h-14.8zM746 209.1l7.4 13.4h-14.8zM763.6 211.6l7.4 13.4h-14.8zM781.3 267.9l7.4 13.4h-14.8zM799 354.9l7.4 13.4h-14.8zM816.6 392.9l7.4 13.4h-14.8zM834.3 272.4l7.4 13.4h-14.8zM852 382.5l7.4 13.4h-14.8zM869.7 362.3l7.4 13.4h-14.8zM887.3 397.3l7.4 13.4h-14.8zM905 414.1l7.4 13.4h-14.8zM922.7 418.1l7.4 13.4h-14.8zM940.3 419.1l7.4 13.4h-14.8zM958 374.6l7.4 13.4h-14.8zM975.7 320.8l7.4 13.4h-14.8zM993.4 204.7l7.4 13.4h-14.8zM1011 219l7.4 13.4h-14.8zM1028.7 232.3l7.4 13.4h-14.8zM1046.4 223l7.4 13.4h-14.8zM1064 251.6l7.4 13.4h-14.8zM1081.7 282.2l7.4 13.4h-14.8zM1099.4 293.1l7.4 13.4h-14.8zM1117 300l7.4 13.4h-14.8zM1134.7 305.5l7.4 13.4h-14.8zM1152.4 313.9l7.4 13.4h-14.8zM1170.1 323.2l7.4 13.4h-14.8zM1187.7 335.6l7.4 13.4h-14.8zM1205.4 362.3l7.4 13.4h-14.8zM1223.1 387.5l7.4 13.4h-14.8zM1240.7 353.4l7.4 13.4h-14.8zM1258.4 302.5l7.4 13.4h-14.8zM1276.1 364.2l7.4 13.4h-14.8zM1293.8 454.6l7.4 13.4h-14.8zM1311.4 487.2l7.4 13.4h-14.8zM1329.1 487.2l7.4 13.4h-14.8zM1346.8 434.9l7.4 13.4h-14.8zM1364.4 477.9l7.4 13.4h-14.8zM1382.1 410.7l7.4 13.4h-14.8zM1399.8 306.4l7.4 13.4h-14.8zM1417.5 212.1l7.4 13.4h-14.8zM1435.1 244.7l7.4 13.4h-14.8zM1452.8 260.5l7.4 13.4h-14.8zM1470.5 268.9l7.4 13.4h-14.8zM1488.1 266.4l7.4 13.4h-14.8zM1505.8 263l7.4 13.4h-14.8zM1523.5 255.6l7.4 13.4h-14.8zM1541.2 240.7l7.4 13.4h-14.8zM1558.8 238.3l7.4 13.4h-14.8zM1576.5 265.4l7.4 13.4h-14.8zM1594.2 267.4l7.4 13.4h-14.8zM1611.8 262.5l7.4 13.4h-14.8zM1629.5 345l7.4 13.4h-14.8z"/>
<polyline stroke="#FF8C00" points="233.5,452 251.2,497.9 268.8,506.3 286.5,496.4 304.2,488 321.9,470.7 339.5,452 357.2,480.6 374.9,507.3 392.5,531.5 410.2,543.9 427.9,552.3 445.6,559.7 463.2,553.2 480.9,547.8 498.6,550.3 516.2,543.9 533.9,520.6 551.6,481.1 569.2,429.7 586.9,444.6 604.6,433.7 622.3,415.4 639.9,393.7 657.6,404.1 675.3,415.4 692.9,429.7 710.6,424.8 728.3,419.9 746,404.5 763.6,372.4 781.3,442.1 799,474.2 816.6,485.6 834.3,496.9 852,513.7 869.7,531.5 887.3,529 905,534.5 922.7,536.9 940.3,532 958,510.3 975.7,452 993.4,423.8 1011,448 1028.7,440.6 1046.4,462.3 1064,466.3 1081.7,489.5 1099.4,475.7 1117,458.9 1134.7,444.1 1152.4,428.3 1170.1,400.6 1187.7,388.7 1205.4,482.1 1223.1,511.7 1240.7,528.5 1258.4,547.8 1276.1,558.2 1293.8,555.7 1311.4,559.7 1329.1,564.6 1346.8,565.6 1364.4,558.7 1382.1,535.5 1399.8,476.2 1417.5,437.2 1435.1,452 1452.8,462.3 1470.5,456.9 1488.1,413.9 1505.8,387.3 1523.5,392.2 1541.2,404.5 1558.8,345.3 1576.5,249.4 1594.2,255.4 1611.8,275.6 1629.5,405.5"/>
<polyline stroke="#A4E21F" points="233.5,594.7 251.2,596.2 268.8,596.2 286.5,596.2 304.2,597.2 321.9,594.7 339.5,592.8 357.2,599.7 374.9,603.1 392.5,607.1 410.2,609.6 427.9,611.5 445.6,605.6 463.2,599.7 480.9,610.5 498.6,611.5 516.2,611 533.9,609.1 551.6,603.6 569.2,600.7 586.9,598.7 604.6,595.7 622.3,590.3 639.9,577.9 657.6,567.1 675.3,555.2 692.9,503.8 710.6,466.3 728.3,507.8 746,509.8 763.6,478.2 781.3,462.3 799,432.2 816.6,409 834.3,444.1 852,515.7 869.7,569.5 887.3,586.3 905,606.1 922.7,610.5 940.3,610.5 958,608.1 975.7,603.1 993.4,600.7 1011,597.2 1028.7,596.2 1046.4,593.8 1064,588.8 1081.7,586.3 1099.4,586.3 1117,552.3 1134.7,473.2 1152.4,409 1170.1,340.3 1187.7,312.2 1205.4,423.8 1223.1,493.5 1240.7,519.7 1258.4,569.5 1276.1,611.5 1293.8,611.5 1311.4,611.5 1329.1,611.5 1346.8,610.5 1364.4,610.5 1382.1,608.1 1399.8,604.6 1417.5,602.1 1435.1,600.7 1452.8,599.7 1470.5,597.2 1488.1,592.3 1505.8,587.8 1523.5,590.8 1541.2,590.8 1558.8,590.3 1576.5,590.8 1594.2,590.3 1611.8,587.3 1629.5,598.7"/>
<path stroke="#A4E21F" d="M233.5 585.5l6.4 9.2l-6.4 9.2l-6.4 -9.2zM251.2 587l6.4 9.2l-6.4 9.2l-6.4 -9.2zM268.8 587l6.4 9.2l-6.4 9.2l-6.4 -9.2zM286.5 587l6.4 9.2l-6.4 9.2l-6.4 -9.2zM304.2 588l6.4 9.2l-6.4 9.2l-6.4 -9.2zM321.9 585.5l6.4 9.2l-6.4 9.2l-6.4 -9.2zM339.5 583.6l6.4 9.2l-6.4 9.2l-6.4 -9.2zM357.2 590.5l6.4 9.2l-6.4 9.2l-6.4 -9.2zM374.9 593.9l6.4 9.2l-6.4 9.2l-6.4 -9.2zM392.5 597.9l6.4 9.2l-6.4 9.2l-6.4 -9.2zM410.2 600.4l6.4 9.2l-6.4 9.2l-6.4 -9.2zM427.9 602.3l6.4 9.2l-6.4 9.2l-6.4 -9.2zM445.6 596.4l6.4 9.2l-6.4 9.2l-6.4 -9.2zM463.2 590.5l6.4 9.2l-6.4 9.2l-6.4 -9.2zM480.9 601.3l6.4 9.2l-6.4 9.2l-6.4 -9.2zM498.6 602.3l6.4 9.2l-6.4 9.2l-6.4 -9.2zM516.2 601.8l6.4 9.2l-6.4 9.2l-6.4 -9.2zM533.9 599.9l6.4 9.2l-6.4 9.2l-6.4 -9.2zM551.6 594.4l6.4 9.2l-6.4 9.2l-6.4 -9.2zM569.2 591.5l6.4 9.2l-6.4 9.2l-6.4 -9.2zM586.9 589.5l6.4 9.2l-6.4 9.2l-6.4 -9.2zM604.6 586.5l6.4 9.2l-6.4 9.2l-6.4 -9.2zM622.3 581.1l6.4 9.2l-6.4 9.2l-6.4 -9.2zM639.9 568.7l6.4 9.2l-6.4 9.2l-6.4 -9.2zM657.6 557.9l6.4 9.2l-6.4 9.2l-6.4 -9.2zM675.3 546l6.4 9.2l-6.4 9.2l-6.4 -9.2zM692.9 494.6l6.4 9.2l-6.4 9.2l-6.4 -9.2zM710.6 457.1l6.4 9.2l-6.4 9.2l-6.4 -9.2zM728.3 498.6l6.4 9.2l-6.4 9.2l-6.4 -9.2zM746 500.6l6.4 9.2l-6.4 9.2l-6.4 -9.2zM763.6 469l6.4 9.2l-6.4 9.2l-6.4 -9.2zM781.3 453.1l6.4 9.2l-6.4 9.2l-6.4 -9.2zM799 423l6.4 9.2l-6.4 9.2l-6.4 -9.2zM816.6 399.8l6.4 9.2l-6.4 9.2l-6.4 -9.2zM834.3 434.9l6.4 9.2l-6.4 9.2l-6.4 -9.2zM852 506.5l6.4 9.2l-6.4 9.2l-6.4 -9.2zM869.7 560.3l6.4 9.2l-6.4 9.2l-6.4 -9.2zM887.3 577.1l6.4 9.2l-6.4 9.2l-6.4 -9.2zM905 596.9l6.4 9.2l-6.4 9.2l-6.4 -9.2zM922.7 601.3l6.4 9.2l-6.4 9.2l-6.4 -9.2zM940.3 601.3l6.4 9.2l-6.4 9.2l-6.4 -9.2zM958 598.9l6.4 9.2l-6.4 9.2l-6.4 -9.2zM975.7 593.9l6.4 9.2l-6.4 9.2l-6.4 -9.2zM993.4 591.5l6.4 9.2l-6.4 9.2l-6.4 -9.2zM1011 588l6.4 9.2l-6.4 9.2l-6.4 -9.2zM1028.7 587l6.4 9.2l-6.4 9.2l-6.4 -9.2zM1046.4 584.6l6.4 9.2l-6.4 9.2l-6.4 -9.2zM1064 579.6l6.4 9.2l-6.4 9.2l-6.4 -9.2zM1081.7 577.1l6.4 9.2l-6.4 9.2l-6.4 -9.2zM1099.4 577.1l6.4 9.2l-6.4 9.2l-6.4 -9.2zM1117 543.1l6.4 9.2l-6.4 9.2l-6.4 -9.2zM1134.7 464l6.4 9.2l-6.4 9.2l-6.4 -9.2zM1152.4 399.8l6.4 9.2l-6.4 9.2l-6.4 -9.2zM1170.1 331.1l6.4 9.2l-6.4 9.2l-6.4 -9.2zM1187.7 303l6.4 9.2l-6.4 9.2l-6.4 -9.2zM1205.4 414.6l6.4 9.2l-6.4 9.2l-6.4 -9.2zM1223.1 484.3l6.4 9.2l-6.4 9.2l-6.4 -9.2zM1240.7 510.5l6.4 9.2l-6.4 9.2l-6.4 -9.2zM1258.4 560.3l6.4 9.2l-6.4 9.2l-6.4 -9.2zM1276.1 602.3l6.4 9.2l-6.4 9.2l-6.4 -9.2zM1293.8 602.3l6.4 9.2l-6.4 9.2l-6.4 -9.2zM1311.4 602.3l6.4 9.2l-6.4 9.2l-6.4 -9.2zM1329.1 602.3l6.4 9.2l-6.4 9.2l-6.4 -9.2zM1346.8 601.3l6.4 9.2l-6.4 9.2l-6.4 -9.2zM1364.4 601.3l6.4 9.2l-6.4 9.2l-6.4 -9.2zM1382.1 598.9l6.4 9.2l-6.4 9.2l-6.4 -9.2zM1399.8 595.4l6.4 9.2l-6.4 9.2l-6.4 -9.2zM1417.5 592.9l6.4 9.2l-6.4 9.2l-6.4 -9.2zM1435.1 591.5l6.4 9.2l-6.4 9.2l-6.4 -9.2zM1452.8 590.5l6.4 9.2l-6.4 9.2l-6.4 -9.2zM1470.5 588l6.4 9.2l-6.4 9.2l-6.4 -9.2zM1488.1 583.1l6.4 9.2l-6.4 9.2l-6.4 -9.2zM1505.8 578.6l6.4 9.2l-6.4 9.2l-6.4 -9.2zM1523.5 581.6l6.4 9.2l-6.4 9.2l-6.4 -9.2zM1541.2 581.6l6.4 9.2l-6.4 9.2l-6.4 -9.2zM1558.8 581.1l6.4 9.2l-6.4 9.2l-6.4 -9.2zM1576.5 581.6l6.4 9.2l-6.4 9.2l-6.4 -9.2zM1594.2 581.1l6.4 9.2l-6.4 9.2l-6.4 -9.2zM1611.8 578.1l6.4 9.2l-6.4 9.2l-6.4 -9.2zM1629.5 589.5l6.4 9.2l-6.4 9.2l-6.4 -9.2z"/>
<polyline stroke="#DA70D6" points="233.5,184.2 251.2,194.6 268.8,200.5 286.5,206 304.2,171.9 321.9,200 339.5,218.8 357.2,299.8 374.9,431.2 392.5,474.7 410.2,495.9 427.9,499.9 445.6,511.7 463.2,511.3 480.9,505.8 498.6,504.8 516.2,482.1 533.9,444.1 551.6,375.4 569.2,309.7 586.9,348.7 604.6,359.6 622.3,329.5 639.9,278.6 657.6,249.4 675.3,279.6 692.9,247 710.6,245.5 728.3,237.1 746,230.7 763.6,224.7 781.3,359.6 799,424.8 816.6,438.1 834.3,453.9 852,460.4 869.7,477.2 887.3,489.5 905,480.6 922.7,486.6 940.3,478.6 958,442.1 975.7,382.8 993.4,337.9 1011,350.2 1028.7,347.2 1046.4,315.6 1064,301.3 1081.7,300.3 1099.4,322.1 1117,331.4 1134.7,342.8 1152.4,353.2 1170.1,361.6 1187.7,362.1 1205.4,412 1223.1,472.2 1240.7,489.5 1258.4,490.5 1276.1,490.5 1293.8,496.4 1311.4,516.2 1329.1,526.1 1346.8,529 1364.4,493 1382.1,461.4 1399.8,376.4 1417.5,312.2 1435.1,320.6 1452.8,311.2 1470.5,284.5 1488.1,266.2 1505.8,250.4 1523.5,248.9 1541.2,260.3 1558.8,273.6 1576.5,296.4 1594.2,278.1 1611.8,286.5 1629.5,346.3"/>
<path stroke="#DA70D6" d="M229.2 179.9h8.6v8.6h-8.6zM246.9 190.3h8.6v8.6h-8.6zM264.5 196.2h8.6v8.6h-8.6zM282.2 201.7h8.6v8.6h-8.6zM299.9 167.6h8.6v8.6h-8.6zM317.6 195.7h8.6v8.6h-8.6zM335.2 214.5h8.6v8.6h-8.6zM352.9 295.5h8.6v8.6h-8.6zM370.6 426.9h8.6v8.6h-8.6zM388.2 470.4h8.6v8.6h-8.6zM405.9 491.6h8.6v8.6h-8.6zM423.6 495.6h8.6v8.6h-8.6zM441.3 507.4h8.6v8.6h-8.6zM458.9 507h8.6v8.6h-8.6zM476.6 501.5h8.6v8.6h-8.6zM494.3 500.5h8.6v8.6h-8.6zM511.9 477.8h8.6v8.6h-8.6zM529.6 439.8h8.6v8.6h-8.6zM547.3 371.1h8.6v8.6h-8.6zM564.9 305.4h8.6v8.6h-8.6zM582.6 344.4h8.6v8.6h-8.6zM600.3 355.3h8.6v8.6h-8.6zM618 325.2h8.6v8.6h-8.6zM635.6 274.3h8.6v8.6h-8.6zM653.3 245.1h8.6v8.6h-8.6zM671 275.3h8.6v8.6h-8.6zM688.6 242.7h8.6v8.6h-8.6zM706.3 241.2h8.6v8.6h-8.6zM724 232.8h8.6v8.6h-8.6zM741.7 226.4h8.6v8.6h-8.6zM759.3 220.4h8.6v8.6h-8.6zM777 355.3h8.6v8.6h-8.6zM794.7 420.5h8.6v8.6h-8.6zM812.3 433.8h8.6v8.6h-8.6zM830 449.6h8.6v8.6h-8.6zM847.7 456.1h8.6v8.6h-8.6zM865.4 472.9h8.6v8.6h-8.6zM883 485.2h8.6v8.6h-8.6zM900.7 476.3h8.6v8.6h-8.6zM918.4 482.3h8.6v8.6h-8.6zM936 474.3h8.6v8.6h-8.6zM953.7 437.8h8.6v8.6h-8.6zM971.4 378.5h8.6v8.6h-8.6zM989.1 333.6h8.6v8.6h-8.6zM1006.7 345.9h8.6v8.6h-8.6zM1024.4 342.9h8.6v8.6h-8.6zM1042.1 311.3h8.6v8.6h-8.6zM1059.7 297h8.6v8.6h-8.6zM1077.4 296h8.6v8.6h-8.6zM1095.1 317.8h8.6v8.6h-8.6zM1112.8 327.1h8.6v8.6h-8.6zM1130.4 338.5h8.6v8.6h-8.6zM1148.1 348.9h8.6v8.6h-8.6zM1165.8 357.3h8.6v8.6h-8.6zM1183.4 357.8h8.6v8.6h-8.6zM1201.1 407.7h8.6v8.6h-8.6zM1218.8 467.9h8.6v8.6h-8.6zM1236.4 485.2h8.6v8.6h-8.6zM1254.1 486.2h8.6v8.6h-8.6zM1271.8 486.2h8.6v8.6h-8.6zM1289.5 492.1h8.6v8.6h-8.6zM1307.1 511.9h8.6v8.6h-8.6zM1324.8 521.8h8.6v8.6h-8.6zM1342.5 524.7h8.6v8.6h-8.6zM1360.1 488.7h8.6v8.6h-8.6zM1377.8 457.1h8.6v8.6h-8.6zM1395.5 372.1h8.6v8.6h-8.6zM1413.2 307.9h8.6v8.6h-8.6zM1430.8 316.3h8.6v8.6h-8.6zM1448.5 306.9h8.6v8.6h-8.6zM1466.2 280.2h8.6v8.6h-8.6zM1483.8 261.9h8.6v8.6h-8.6zM1501.5 246.1h8.6v8.6h-8.6zM1519.2 244.6h8.6v8.6h-8.6zM1536.9 256h8.6v8.6h-8.6zM1554.5 269.3h8.6v8.6h-8.6zM1572.2 292.1h8.6v8.6h-8.6zM1589.9 273.8h8.6v8.6h-8.6zM1607.5 282.2h8.6v8.6h-8.6zM1625.2 342h8.6v8.6h-8.6z"/>
<polyline stroke="#17A89B" points="233.5,482.6 251.2,481.1 268.8,458.9 286.5,423.8 304.2,362.1 321.9,251.4 339.5,224.2 357.2,337.9 374.9,526.6 392.5,473.7 410.2,468.8 427.9,447 445.6,465.3 463.2,482.1 480.9,506.3 498.6,521.1 516.2,524.6 533.9,535.5 551.6,491 569.2,432.2 586.9,380.3 604.6,300.3 622.3,287 639.9,255.4 657.6,232.1 675.3,226.2 692.9,222.8 710.6,215.3 728.3,233.1 746,248.9 763.6,258.8 781.3,253.9 799,362.6 816.6,402.1 834.3,428.8 852,432.2 869.7,416.4 887.3,412 905,414.4 922.7,529 940.3,555.7 958,534 975.7,489 993.4,460.4 1011,397.1 1028.7,255.4 1046.4,178.8 1064,204.5 1081.7,231.2 1099.4,259.8 1117,284 1134.7,300.3 1152.4,303.8 1170.1,314.6 1187.7,325.5 1205.4,369 1223.1,422.3 1240.7,437.2 1258.4,478.6 1276.1,550.3 1293.8,597.2 1311.4,603.6 1329.1,602.1 1346.8,598.7 1364.4,593.8 1382.1,578.9 1399.8,563.6 1417.5,549.8 1435.1,547.8 1452.8,546.3 1470.5,536.9 1488.1,516.2 1505.8,494.5 1523.5,473.7 1541.2,483.1 1558.8,478.2 1576.5,465.3 1594.2,419.4 1611.8,413.9 1629.5,545.3"/>
<polyline stroke="#CD853F" points="233.5,205.5 251.2,204 268.8,213.4 286.5,193.1 304.2,194.6 321.9,216.8 339.5,228.7 357.2,361.1 374.9,458.9 392.5,479.6 410.2,516.2 427.9,531.5 445.6,536.4 463.2,535.5 480.9,521.1 498.6,504.8 516.2,493.5 533.9,485.6 551.6,430.7 569.2,351.7 586.9,364.5 604.6,360.6 622.3,346.3 639.9,289.4 657.6,228.2 675.3,262.3 692.9,233.6 710.6,234.1 728.3,228.7 746,224.7 763.6,217.8 781.3,333.9 799,407 816.6,444.6 834.3,454.4 852,483.1 869.7,484.6 887.3,497.9 905,503.4 922.7,503.4 940.3,498.4 958,453.9 975.7,386.3 993.4,314.6 1011,337.4 1028.7,355.6 1046.4,337.4 1064,315.1 1081.7,301.8 1099.4,308.7 1117,324 1134.7,337.4 1152.4,348.7 1170.1,360.6 1187.7,359.6 1205.4,401.6 1223.1,464.8 1240.7,494 1258.4,501.4 1276.1,502.4 1293.8,506.8 1311.4,522.1 1329.1,529.5 1346.8,538.4 1364.4,534 1382.1,507.3 1399.8,442.6 1417.5,390.7 1435.1,392.2 1452.8,399.6 1470.5,380.3 1488.1,333.9 1505.8,255.4 1523.5,253.9 1541.2,268.7 1558.8,271.2 1576.5,272.2 1594.2,290.4 1611.8,296.4 1629.5,381.3"/>
<path stroke="#CD853F" d="M227.3 205.5a6.2 6.2 0 1 0 12.4 0a6.2 6.2 0 1 0 -12.4 0zM245 204a6.2 6.2 0 1 0 12.4 0a6.2 6.2 0 1 0 -12.4 0zM262.6 213.4a6.2 6.2 0 1 0 12.4 0a6.2 6.2 0 1 0 -12.4 0zM280.3 193.1a6.2 6.2 0 1 0 12.4 0a6.2 6.2 0 1 0 -12.4 0zM298 194.6a6.2 6.2 0 1 0 12.4 0a6.2 6.2 0 1 0 -12.4 0zM315.7 216.8a6.2 6.2 0 1 0 12.4 0a6.2 6.2 0 1 0 -12.4 0zM333.3 228.7a6.2 6.2 0 1 0 12.4 0a6.2 6.2 0 1 0 -12.4 0zM351 361.1a6.2 6.2 0 1 0 12.4 0a6.2 6.2 0 1 0 -12.4 0zM368.7 458.9a6.2 6.2 0 1 0 12.4 0a6.2 6.2 0 1 0 -12.4 0zM386.3 479.6a6.2 6.2 0 1 0 12.4 0a6.2 6.2 0 1 0 -12.4 0zM404 516.2a6.2 6.2 0 1 0 12.4 0a6.2 6.2 0 1 0 -12.4 0zM421.7 531.5a6.2 6.2 0 1 0 12.4 0a6.2 6.2 0 1 0 -12.4 0zM439.4 536.4a6.2 6.2 0 1 0 12.4 0a6.2 6.2 0 1 0 -12.4 0zM457 535.5a6.2 6.2 0 1 0 12.4 0a6.2 6.2 0 1 0 -12.4 0zM474.7 521.1a6.2 6.2 0 1 0 12.4 0a6.2 6.2 0 1 0 -12.4 0zM492.4 504.8a6.2 6.2 0 1 0 12.4 0a6.2 6.2 0 1 0 -12.4 0zM510 493.5a6.2 6.2 0 1 0 12.4 0a6.2 6.2 0 1 0 -12.4 0zM527.7 485.6a6.2 6.2 0 1 0 12.4 0a6.2 6.2 0 1 0 -12.4 0zM545.4 430.7a6.2 6.2 0 1 0 12.4 0a6.2 6.2 0 1 0 -12.4 0zM563 351.7a6.2 6.2 0 1 0 12.4 0a6.2 6.2 0 1 0 -12.4 0zM580.7 364.5a6.2 6.2 0 1 0 12.4 0a6.2 6.2 0 1 0 -12.4 0zM598.4 360.6a6.2 6.2 0 1 0 12.4 0a6.2 6.2 0 1 0 -12.4 0zM616.1 346.3a6.2 6.2 0 1 0 12.4 0a6.2 6.2 0 1 0 -12.4 0zM633.7 289.4a6.2 6.2 0 1 0 12.4 0a6.2 6.2 0 1 0 -12.4 0zM651.4 228.2a6.2 6.2 0 1 0 12.4 0a6.2 6.2 0 1 0 -12.4 0zM669.1 262.3a6.2 6.2 0 1 0 12.4 0a6.2 6.2 0 1 0 -12.4 0zM686.7 233.6a6.2 6.2 0 1 0 12.4 0a6.2 6.2 0 1 0 -12.4 0zM704.4 234.1a6.2 6.2 0 1 0 12.4 0a6.2 6.2 0 1 0 -12.4 0zM722.1 228.7a6.2 6.2 0 1 0 12.4 0a6.2 6.2 0 1 0 -12.4 0zM739.8 224.7a6.2 6.2 0 1 0 12.4 0a6.2 6.2 0 1 0 -12.4 0zM757.4 217.8a6.2 6.2 0 1 0 12.4 0a6.2 6.2 0 1 0 -12.4 0zM775.1 333.9a6.2 6.2 0 1 0 12.4 0a6.2 6.2 0 1 0 -12.4 0zM792.8 407a6.2 6.2 0 1 0 12.4 0a6.2 6.2 0 1 0 -12.4 0zM810.4 444.6a6.2 6.2 0 1 0 12.4 0a6.2 6.2 0 1 0 -12.4 0zM828.1 454.4a6.2 6.2 0 1 0 12.4 0a6.2 6.2 0 1 0 -12.4 0zM845.8 483.1a6.2 6.2 0 1 0 12.4 0a6.2 6.2 0 1 0 -12.4 0zM863.5 484.6a6.2 6.2 0 1 0 12.4 0a6.2 6.2 0 1 0 -12.4 0zM881.1 497.9a6.2 6.2 0 1 0 12.4 0a6.2 6.2 0 1 0 -12.4 0zM898.8 503.4a6.2 6.2 0 1 0 12.4 0a6.2 6.2 0 1 0 -12.4 0zM916.5 503.4a6.2 6.2 0 1 0 12.4 0a6.2 6.2 0 1 0 -12.4 0zM934.1 498.4a6.2 6.2 0 1 0 12.4 0a6.2 6.2 0 1 0 -12.4 0zM951.8 453.9a6.2 6.2 0 1 0 12.4 0a6.2 6.2 0 1 0 -12.4 0zM969.5 386.3a6.2 6.2 0 1 0 12.4 0a6.2 6.2 0 1 0 -12.4 0zM987.2 314.6a6.2 6.2 0 1 0 12.4 0a6.2 6.2 0 1 0 -12.4 0zM1004.8 337.4a6.2 6.2 0 1 0 12.4 0a6.2 6.2 0 1 0 -12.4 0zM1022.5 355.6a6.2 6.2 0 1 0 12.4 0a6.2 6.2 0 1 0 -12.4 0zM1040.2 337.4a6.2 6.2 0 1 0 12.4 0a6.2 6.2 0 1 0 -12.4 0zM1057.8 315.1a6.2 6.2 0 1 0 12.4 0a6.2 6.2 0 1 0 -12.4 0zM1075.5 301.8a6.2 6.2 0 1 0 12.4 0a6.2 6.2 0 1 0 -12.4 0zM1093.2 308.7a6.2 6.2 0 1 0 12.4 0a6.2 6.2 0 1 0 -12.4 0zM1110.8 324a6.2 6.2 0 1 0 12.4 0a6.2 6.2 0 1 0 -12.4 0zM1128.5 337.4a6.2 6.2 0 1 0 12.4 0a6.2 6.2 0 1 0 -12.4 0zM1146.2 348.7a6.2 6.2 0 1 0 12.4 0a6.2 6.2 0 1 0 -12.4 0zM1163.9 360.6a6.2 6.2 0 1 0 12.4 0a6.2 6.2 0 1 0 -12.4 0zM1181.5 359.6a6.2 6.2 0 1 0 12.4 0a6.2 6.2 0 1 0 -12.4 0zM1199.2 401.6a6.2 6.2 0 1 0 12.4 0a6.2 6.2 0 1 0 -12.4 0zM1216.9 464.8a6.2 6.2 0 1 0 12.4 0a6.2 6.2 0 1 0 -12.4 0zM1234.5 494a6.2 6.2 0 1 0 12.4 0a6.2 6.2 0 1 0 -12.4 0zM1252.2 501.4a6.2 6.2 0 1 0 12.4 0a6.2 6.2 0 1 0 -12.4 0zM1269.9 502.4a6.2 6.2 0 1 0 12.4 0a6.2 6.2 0 1 0 -12.4 0zM1287.6 506.8a6.2 6.2 0 1 0 12.4 0a6.2 6.2 0 1 0 -12.4 0zM1305.2 522.1a6.2 6.2 0 1 0 12.4 0a6.2 6.2 0 1 0 -12.4 0zM1322.9 529.5a6.2 6.2 0 1 0 12.4 0a6.2 6.2 0 1 0 -12.4 0zM1340.6 538.4a6.2 6.2 0 1 0 12.4 0a6.2 6.2 0 1 0 -12.4 0zM1358.2 534a6.2 6.2 0 1 0 12.4 0a6.2 6.2 0 1 0 -12.4 0zM1375.9 507.3a6.2 6.2 0 1 0 12.4 0a6.2 6.2 0 1 0 -12.4 0zM1393.6 442.6a6.2 6.2 0 1 0 12.4 0a6.2 6.2 0 1 0 -12.4 0zM1411.3 390.7a6.2 6.2 0 1 0 12.4 0a6.2 6.2 0 1 0 -12.4 0zM1428.9 392.2a6.2 6.2 0 1 0 12.4 0a6.2 6.2 0 1 0 -12.4 0zM1446.6 399.6a6.2 6.2 0 1 0 12.4 0a6.2 6.2 0 1 0 -12.4 0zM1464.3 380.3a6.2 6.2 0 1 0 12.4 0a6.2 6.2 0 1 0 -12.4 0zM1481.9 333.9a6.2 6.2 0 1 0 12.4 0a6.2 6.2 0 1 0 -12.4 0zM1499.6 255.4a6.2 6.2 0 1 0 12.4 0a6.2 6.2 0 1 0 -12.4 0zM1517.3 253.9a6.2 6.2 0 1 0 12.4 0a6.2 6.2 0 1 0 -12.4 0zM1535 268.7a6.2 6.2 0 1 0 12.4 0a6.2 6.2 0 1 0 -12.4 0zM1552.6 271.2a6.2 6.2 0 1 0 12.4 0a6.2 6.2 0 1 0 -12.4 0zM1570.3 272.2a6.2 6.2 0 1 0 12.4 0a6.2 6.2 0 1 0 -12.4 0zM1588 290.4a6.2 6.2 0 1 0 12.4 0a6.2 6.2 0 1 0 -12.4 0zM1605.6 296.4a6.2 6.2 0 1 0 12.4 0a6.2 6.2 0 1 0 -12.4 0zM1623.3 381.3a6.2 6.2 0 1 0 12.4 0a6.2 6.2 0 1 0 -12.4 0z"/>
</g>
<text transform="translate(222,621.8) scale(1,0.87)" text-anchor="end"><tspan font-family="Liberation Sans" dx="0.55">0</tspan></text>
<text transform="translate(222,523) scale(1,0.87)" text-anchor="end">2<tspan font-family="Liberation Sans" dx="0.55">0</tspan></text>
<text transform="translate(222,424.2) scale(1,0.87)" text-anchor="end">4<tspan font-family="Liberation Sans" dx="0.55">0</tspan></text>
<text transform="translate(222,325.4) scale(1,0.87)" text-anchor="end">6<tspan font-family="Liberation Sans" dx="0.55">0</tspan></text>
<text transform="translate(222,226.6) scale(1,0.87)" text-anchor="end">8<tspan font-family="Liberation Sans" dx="0.55">0</tspan></text>
<text transform="translate(222,127.8) scale(1,0.87)" text-anchor="end">1<tspan font-family="Liberation Sans" dx="0.55">0</tspan><tspan font-family="Liberation Sans" dx="1.09">0</tspan></text>
<text transform="translate(233.5,624.5) rotate(-45) translate(0,20.1) scale(1,0.87)" text-anchor="end">4−17 <tspan font-family="Liberation Sans" dx="0.55">0</tspan><tspan font-family="Liberation Sans" dx="1.09">0</tspan></text>
<text transform="translate(304.2,624.5) rotate(-45) translate(0,20.1) scale(1,0.87)" text-anchor="end"><tspan font-family="Liberation Sans" dx="0.55">0</tspan><tspan dx="0.55">4</tspan></text>
<text transform="translate(374.9,624.5) rotate(-45) translate(0,20.1) scale(1,0.87)" text-anchor="end"><tspan font-family="Liberation Sans" dx="0.55">0</tspan><tspan dx="0.55">8</tspan></text>
<text transform="translate(445.6,624.5) rotate(-45) translate(0,20.1) scale(1,0.87)" text-anchor="end">12</text>
<text transform="translate(516.2,624.5) rotate(-45) translate(0,20.1) scale(1,0.87)" text-anchor="end">16</text>
<text transform="translate(586.9,624.5) rotate(-45) translate(0,20.1) scale(1,0.87)" text-anchor="end">2<tspan font-family="Liberation Sans" dx="0.55">0</tspan></text>
<text transform="translate(657.6,624.5) rotate(-45) translate(0,20.1) scale(1,0.87)" text-anchor="end">4−18 <tspan font-family="Liberation Sans" dx="0.55">0</tspan><tspan font-family="Liberation Sans" dx="1.09">0</tspan></text>
<text transform="translate(728.3,624.5) rotate(-45) translate(0,20.1) scale(1,0.87)" text-anchor="end"><tspan font-family="Liberation Sans" dx="0.55">0</tspan><tspan dx="0.55">4</tspan></text>
<text transform="translate(799,624.5) rotate(-45) translate(0,20.1) scale(1,0.87)" text-anchor="end"><tspan font-family="Liberation Sans" dx="0.55">0</tspan><tspan dx="0.55">8</tspan></text>
<text transform="translate(869.7,624.5) rotate(-45) translate(0,20.1) scale(1,0.87)" text-anchor="end">12</text>
<text transform="translate(940.3,624.5) rotate(-45) translate(0,20.1) scale(1,0.87)" text-anchor="end">16</text>
<text transform="translate(1011,624.5) rotate(-45) translate(0,20.1) scale(1,0.87)" text-anchor="end">2<tspan font-family="Liberation Sans" dx="0.55">0</tspan></text>
<text transform="translate(1081.7,624.5) rotate(-45) translate(0,20.1) scale(1,0.87)" text-anchor="end">4−19 <tspan font-family="Liberation Sans" dx="0.55">0</tspan><tspan font-family="Liberation Sans" dx="1.09">0</tspan></text>
<text transform="translate(1152.4,624.5) rotate(-45) translate(0,20.1) scale(1,0.87)" text-anchor="end"><tspan font-family="Liberation Sans" dx="0.55">0</tspan><tspan dx="0.55">4</tspan></text>
<text transform="translate(1223.1,624.5) rotate(-45) translate(0,20.1) scale(1,0.87)" text-anchor="end"><tspan font-family="Liberation Sans" dx="0.55">0</tspan><tspan dx="0.55">8</tspan></text>
<text transform="translate(1293.8,624.5) rotate(-45) translate(0,20.1) scale(1,0.87)" text-anchor="end">12</text>
<text transform="translate(1364.4,624.5) rotate(-45) translate(0,20.1) scale(1,0.87)" text-anchor="end">16</text>
<text transform="translate(1435.1,624.5) rotate(-45) translate(0,20.1) scale(1,0.87)" text-anchor="end">2<tspan font-family="Liberation Sans" dx="0.55">0</tspan></text>
<text transform="translate(1505.8,624.5) rotate(-45) translate(0,20.1) scale(1,0.87)" text-anchor="end">4−2<tspan font-family="Liberation Sans" dx="0.55">0</tspan><tspan dx="0.55"> </tspan><tspan font-family="Liberation Sans" dx="0.55">0</tspan><tspan font-family="Liberation Sans" dx="1.09">0</tspan></text>
<text transform="translate(1576.5,624.5) rotate(-45) translate(0,20.1) scale(1,0.87)" text-anchor="end"><tspan font-family="Liberation Sans" dx="0.55">0</tspan><tspan dx="0.55">4</tspan></text>
<text transform="translate(931,742.9) scale(1,0.87)" text-anchor="middle" style="font-size:27.5px">Date</text>
<text transform="translate(154.6,585) rotate(-90) scale(1,0.87)" style="font-size:27.5px">NO<tspan font-size="22" dy="15">2</tspan><tspan dy="-15"> concentrations [</tspan><tspan font-style="italic">μ</tspan>g m<tspan font-size="22" dy="-14">−3</tspan><tspan dy="14">]</tspan></text>
<text class="b" transform="translate(233.6,410.8) scale(1,0.87)">21</text>
<text class="b" transform="translate(304.5,395) scale(1,0.87)">23</text>
<text class="b" transform="translate(376.1,503.3) scale(1,0.87)">12</text>
<text class="b" transform="translate(446.1,542.5) scale(1,0.87)">8</text>
<text class="b" transform="translate(518.6,533.3) scale(1,0.87)">9</text>
<text class="b" transform="translate(588.6,447.5) scale(1,0.87)">17</text>
<text class="b" transform="translate(657,354.2) scale(1,0.87)">27</text>
<text class="b" transform="translate(727.8,345) scale(1,0.87)">28</text>
<text class="b" transform="translate(801.1,446.7) scale(1,0.87)">17</text>
<text class="b" transform="translate(872,514.2) scale(1,0.87)">11</text>
<text class="b" transform="translate(942,532.5) scale(1,0.87)">9</text>
<text class="b" transform="translate(1012.8,430.8) scale(1,0.87)">19</text>
<text class="b" transform="translate(1081.1,383.3) scale(1,0.87)">24</text>
<text class="b" transform="translate(1152.8,383.3) scale(1,0.87)">24</text>
<text class="b" transform="translate(1222.8,483.3) scale(1,0.87)">14</text>
<text class="b" transform="translate(1295.3,539) scale(1,0.87)">8</text>
<text class="b" transform="translate(1365.3,564) scale(1,0.87)">5</text>
<text class="b" transform="translate(1436.1,480) scale(1,0.87)">14</text>
<text class="b" transform="translate(1506.8,454) scale(1,0.87)">17</text>
<text class="b" transform="translate(1577.8,430.8) scale(1,0.87)">19</text>
<g class="l" stroke-width="1.9">
<path stroke="#CD853F" d="M358.3 67.2h62M383.1 67.2a6.2 6.2 0 1 0 12.4 0a6.2 6.2 0 1 0 -12.4 0z"/>
<path stroke="#6A5ACD" d="M485.7 67.2h62"/>
<path stroke="#87CEFA" d="M614.3 67.2h62M638.9 67.2h12.8M645.3 60.8v12.8"/>
<path stroke="#4682B4" d="M741.7 67.2h62M766.5 67.2h12.4M772.7 61v12.4M768.3 62.8l8.8 8.8M768.3 71.6l8.8 -8.8"/>
<path stroke="#FFD700" d="M870.7 67.2h62M901.7 59l7.4 13.4h-14.8z"/>
<path stroke="#FF8C00" d="M1000.7 67.2h62"/>
<path stroke="#A4E21F" d="M1129.3 67.2h62M1160.3 58l6.4 9.2l-6.4 9.2l-6.4 -9.2z"/>
<path stroke="#DA70D6" d="M1258.3 67.2h62M1285 62.9h8.6v8.6h-8.6z"/>
<path stroke="#17A89B" d="M1387.7 67.2h62"/>
</g>
<text class="lg" x="427.1" y="75.2">福田</text>
<text class="lg" x="554" y="75.4">罗湖</text>
<text class="lg" x="683.1" y="75.2">南山</text>
<text class="lg" x="810" y="75.4">盐田</text>
<text class="lg" x="939" y="75.4">龙岗</text>
<text class="lg" x="1069.5" y="75.2">宝安</text>
<text class="lg" x="1198.1" y="75.2">大鹏</text>
<text class="lg" x="1326.6" y="75.4">龙华</text>
<text class="lg" x="1456.5" y="75.2">坪山</text>
</svg>
</body></html>
